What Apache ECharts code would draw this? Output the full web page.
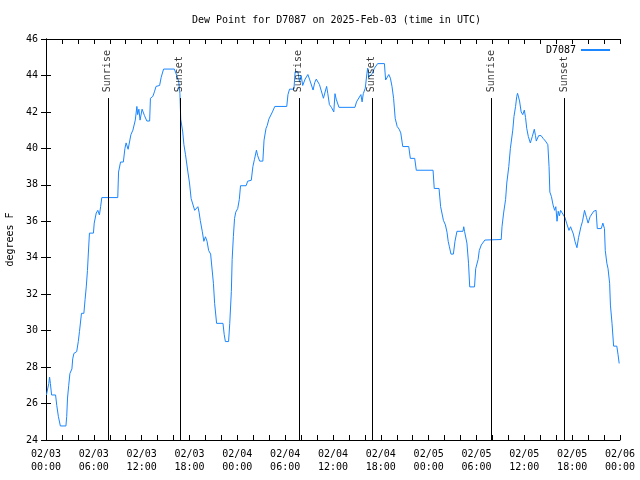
<!DOCTYPE html>
<html><head><meta charset="utf-8">
<script src="https://cdn.jsdelivr.net/npm/echarts@6/dist/echarts.min.js"></script>
<style>html,body{margin:0;padding:0;background:#fff}#c{width:640px;height:480px}</style>
</head><body><div id="c"></div>
<script>
// hours since 2025-02-03 00:00 UTC
const hours = [
0.05,0.35,0.45,0.55,0.7,1.2,1.35,1.55,1.8,2.5,2.6,2.7,2.85,3.0,3.25,3.35,3.5,3.85,4.05,4.2,4.45,4.75,4.9,5.05,5.2,5.3,5.45,5.95,6.05,6.3,6.5,6.7,6.85,7.0,
9.0,9.1,9.35,9.7,9.9,10.05,10.3,10.5,10.65,10.9,11.2,11.4,11.5,11.65,11.8,12.05,12.35,12.65,13.0,13.1,13.4,13.6,13.8,14.25,14.45,14.75,
16.1,16.4,16.65,16.8,16.9,17.15,17.3,17.5,17.8,18.0,18.2,18.45,18.65,18.9,19.05,19.2,19.35,19.6,19.8,20.0,20.2,20.4,20.65,20.85,
21.0,21.15,21.4,22.2,22.35,22.5,22.9,23.05,23.25,23.35,23.5,23.65,23.8,24.05,24.25,24.4,25.1,25.3,25.75,25.95,26.15,26.4,26.55,26.8,
27.2,27.35,27.6,27.75,27.95,28.4,28.7,30.2,30.35,30.55,31.1,31.25,31.6,31.8,32.0,32.2,32.5,32.85,33.05,33.3,33.5,33.7,33.9,34.1,34.3,
34.5,34.8,35.05,35.2,35.35,35.55,35.8,36.1,36.25,36.4,36.75,38.75,38.95,39.2,39.5,39.65,39.8,40.05,40.25,40.35,40.5,40.7,40.9,41.2,
41.6,42.45,42.6,42.8,43.0,43.2,43.4,43.6,43.8,44.05,44.3,44.5,44.75,45.5,45.7,46.25,46.45,48.55,48.7,49.3,49.5,49.7,49.85,50.1,50.3,
50.45,50.6,50.8,51.1,51.3,51.55,52.3,52.4,52.5,52.8,53.0,53.15,53.75,53.9,54.2,54.35,54.6,55.05,55.2,57.1,57.2,57.4,57.65,57.8,58.05,
58.25,58.55,58.7,58.9,59.05,59.15,59.4,59.6,59.8,60.0,60.15,60.3,60.5,60.75,60.85,61.0,61.25,61.4,61.5,61.8,62.1,62.35,62.65,62.95,
63.1,63.2,63.4,63.6,63.8,63.95,64.1,64.25,64.4,64.55,64.75,65.1,65.3,65.6,65.8,66.0,66.15,66.35,66.6,66.8,67.1,67.3,67.55,67.8,68.0,
68.25,68.5,68.7,69.0,69.15,69.65,69.85,70.05,70.15,70.35,70.5,70.7,70.8,71.0,71.2,71.6,71.75,71.9
];
const dewF = [
26.47,27.1,27.45,27.1,26.47,26.47,25.9,25.3,24.77,24.77,25.3,26.3,27.0,27.65,27.9,28.45,28.75,28.85,29.4,29.95,30.95,30.95,31.7,32.4,33.3,34.15,35.35,35.35,35.9,36.45,36.6,36.35,36.8,37.3,
37.3,38.7,39.25,39.25,40.0,40.3,39.95,39.95,40.75,41.0,41.55,42.3,41.85,42.15,41.55,42.15,41.8,41.5,41.5,42.75,42.85,43.1,43.4,43.45,43.9,44.35,
44.35,44.0,43.65,43.0,41.6,40.9,40.2,39.65,38.7,38.1,37.25,37.2,36.6,36.55,36.8,36.5,36.05,35.45,34.9,35.15,34.9,34.4,34.2,34.2,
32.6,31.5,30.4,30.4,29.8,29.4,29.4,30.4,32.15,33.9,35.15,36.15,36.5,36.7,37.2,37.95,37.95,38.2,38.25,39.0,39.4,39.9,39.6,39.3,
39.3,40.45,41.1,41.25,41.6,42.0,42.3,42.3,42.95,43.25,43.25,44.2,44.2,43.65,44.0,43.45,43.8,44.05,43.8,43.75,43.2,43.6,43.8,43.75,43.5,
43.4,42.75,42.75,43.4,43.0,42.4,42.25,42.0,43.0,42.7,42.25,42.25,42.55,42.6,42.95,42.55,43.0,43.3,44.1,44.4,43.9,43.8,44.1,44.4,
44.65,44.65,43.75,43.8,44.05,43.85,43.4,42.75,41.65,41.2,41.05,40.85,40.1,40.1,39.45,39.45,38.8,38.8,37.8,37.8,36.8,36.8,36.05,35.8,35.4,
34.9,34.6,34.2,34.2,34.9,35.45,35.45,35.7,35.45,34.8,33.7,32.4,32.4,33.4,33.9,34.4,34.7,34.97,35.0,35.0,35.7,36.45,37.2,38.1,39.0,
40.0,41.0,41.75,42.3,42.85,43.02,42.6,42.0,41.85,42.1,41.7,41.1,40.65,40.3,40.2,40.65,41.05,40.7,40.4,40.7,40.7,40.55,40.4,40.2,
39.0,37.6,37.35,36.9,36.6,36.8,36.0,36.55,36.3,36.6,36.6,36.2,35.9,35.5,35.7,35.8,35.3,34.9,34.55,35.1,35.7,36.0,36.6,36.2,35.9,
36.25,36.25,36.55,36.6,35.6,35.6,35.9,35.6,34.4,33.7,33.4,32.6,31.4,30.4,29.15,29.15,28.7,28.2
];
const sunHours = [7.75, 16.79, 31.72, 40.88, 55.81, 64.97];
const sunNames = ['Sunrise','Sunset','Sunrise','Sunset','Sunrise','Sunset'];
const seriesName = 'D7087';
const yMin = 24, yMax = 46, yStep = 2;
const xMin = 0, xMax = 72, xStep = 6;
const sunLineTop = 42.76, sunLabelBase = 43.08;

const font = 'DejaVu Sans Mono';
const pad = n => (n < 10 ? '0' : '') + n;
const xLabel = h => {
  const day = 3 + Math.floor(h / 24);
  const hh = h % 24;
  return '02/' + pad(day) + '\n' + pad(hh) + ':00';
};
const tickStyle = {show:true, inside:true, length:5, lineStyle:{color:'#000', width:1}};
const minorStyle = {show:true, splitNumber:3, length:5, lineStyle:{color:'#000', width:1}};
const lineAxis = {show:true, lineStyle:{color:'#000', width:1}};

const chart = echarts.init(document.getElementById('c'), null, {renderer:'canvas'});
chart.setOption({
  animation:false,
  backgroundColor:'#fff',
  textStyle:{fontFamily:font},
  title:{text:'Dew Point for D7087 on 2025-Feb-03 (time in UTC)', left:187, top:10,
    textStyle:{fontFamily:font, fontSize:10, fontWeight:'normal', color:'#000'}},
  legend:{data:[{name:seriesName}], right:25, top:40, align:'right', itemWidth:29, itemHeight:2,
    icon:'rect', itemGap:5, textStyle:{fontFamily:font, fontSize:10, color:'#000'}},
  grid:{left:46, right:20, top:39, bottom:40, containLabel:false, outerBoundsMode:'none'},
  xAxis:[
    {type:'value', min:xMin, max:xMax, interval:xStep, position:'bottom',
     axisLine:lineAxis, axisTick:tickStyle, minorTick:minorStyle, splitLine:{show:false},
     axisLabel:{formatter:xLabel, fontFamily:font, fontSize:10, color:'#000', margin:8, lineHeight:13}},
    {type:'value', min:xMin, max:xMax, interval:xStep, position:'top',
     axisLine:lineAxis, axisTick:tickStyle, minorTick:minorStyle, splitLine:{show:false},
     axisLabel:{show:false}}
  ],
  yAxis:[
    {type:'value', min:yMin, max:yMax, interval:yStep, position:'left',
     name:'degrees F', nameLocation:'middle', nameGap:31, nameRotate:90,
     nameTextStyle:{fontFamily:font, fontSize:10, color:'#000'},
     axisLine:lineAxis, axisTick:tickStyle, splitLine:{show:false},
     axisLabel:{fontFamily:font, fontSize:10, color:'#000', margin:8}},
    {type:'value', min:yMin, max:yMax, interval:yStep, position:'right',
     axisLine:lineAxis, axisTick:tickStyle, splitLine:{show:false},
     axisLabel:{show:false}}
  ],
  series:[
    {name:'sun', type:'line', data:[], z:1, silent:true,
     markLine:{silent:true, symbol:['none','none'], animation:false,
       lineStyle:{color:'#000', width:1, type:'solid'}, label:{show:false},
       data: sunHours.map(h => [{coord:[h, yMin]}, {coord:[h, sunLineTop]}])}},
    {name:'sunlabels', type:'scatter', z:3, silent:true, symbolSize:0.1,
     itemStyle:{color:'rgba(0,0,0,0)'},
     data: sunHours.map((h,i) => ({name:sunNames[i], value:[h, sunLabelBase]})),
     label:{show:true, formatter:'{b}', position:'inside', rotate:90, align:'left',
       verticalAlign:'middle', offset:[0,0], fontFamily:font, fontSize:10, color:'#000'}},
    {name:seriesName, type:'line', z:2, showSymbol:false, symbol:'none',
     lineStyle:{color:'#1a86ff', width:1}, itemStyle:{color:'#1a86ff'},
     data: hours.map((h,i) => [h, dewF[i]])}
  ]
});
</script>
</body></html>
